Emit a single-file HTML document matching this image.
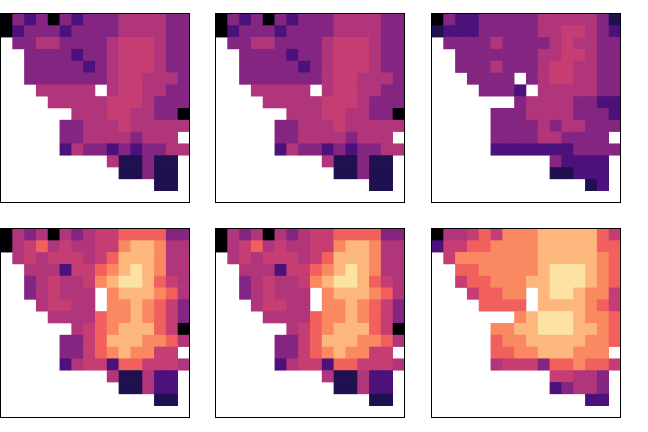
<!DOCTYPE html>
<html><head><meta charset="utf-8"><style>
html,body{margin:0;padding:0;background:#fff;}
svg{display:block;}
</style></head><body>
<svg id="chart" width="648" height="432" viewBox="0 0 648 432" xmlns="http://www.w3.org/2000/svg"></svg>
<script>
// Panel data: each row string is 16 cells, digits 0-9 = colour level, '.' = empty
const panelTopLeft = [
"0323032333444433","0233323333444433",".334433334555433","..33332334555433",
"..33333234555433","..33333334554443","...44444.4554433","....444445554333",
"......4445544330",".....33444544444",".....3344443444.",".....24332323344",
".........411311.","..........11311.",".............11.","................"];
const panelTopMid = panelTopLeft.slice();
const panelTopRight = [
"0322333334444431","1222333334455432",".333343333454433","..33333334455433",
"..33343334554433","...3333.34554433","....3332.4444433",".......344443322",
".....33344443332",".....33334344333",".....3333443333.",".....22222223333",
"..........32222.","..........11222.",".............12.","................"];
const panelBottomLeft = [
"0434043455666633","0456454455788744",".454555456888744","..44425567898744",
"..34544578998654","..345444.7888764","...45544.7787653","....444467787653",
"......4567888650",".....33568887764",".....3356787755.",".....24552665554",
".........411422.","..........11422.",".............11.","................"];
const panelBottomMid = panelBottomLeft.slice();
const panelBottomRight = [
"0445657778888865","2556677778888866",".577777778888876","..66777778999876",
"..56677788999876","...56677.8998775","....6666.8888765",".......789998776",
".....77889998876",".....67788888776",".....6677888777.",".....45553667665",
"..........55443.","..........23443.",".............22.","................"];
const panels = [panelTopLeft, panelTopMid, panelTopRight, panelBottomLeft, panelBottomMid, panelBottomRight];
const panelNames = ["panel-top-left","panel-top-middle","panel-top-right","panel-bottom-left","panel-bottom-middle","panel-bottom-right"];
const palette = ["#000004","#1f1150","#4c117a","#842681","#b0357b","#c63d73","#f1605d","#fa8861","#fdb67c","#fde3a3"];

const svg = document.getElementById('chart');
const NS = "http://www.w3.org/2000/svg";
const colX = [0.5, 215.5, 431.5];
const rowY = [13.5, 228.5];
const size = 189;
const n = 16;
const cell = size / n;
function xScale(p, c){ return colX[p % 3] + c * cell; }
function yScale(p, r){ return rowY[Math.floor(p / 3)] + r * cell; }

panels.forEach((rows, p) => {
  const g = document.createElementNS(NS, 'g');
  
  
  rows.forEach((row, r) => {
    for (let c = 0; c < n; c++) {
      const ch = row[c];
      if (ch === undefined || ch === '.') continue;
      const rect = document.createElementNS(NS, 'rect');
      
      
      rect.setAttribute('x', xScale(p, c).toFixed(2));
      rect.setAttribute('y', yScale(p, r).toFixed(2));
      rect.setAttribute('width', (cell + 0.3).toFixed(2));
      rect.setAttribute('height', (cell + 0.3).toFixed(2));
      rect.setAttribute('fill', palette[+ch]);
      g.appendChild(rect);
    }
  });
  const frame = document.createElementNS(NS, 'rect');
  
  
  frame.setAttribute('x', colX[p % 3]);
  frame.setAttribute('y', rowY[Math.floor(p / 3)]);
  frame.setAttribute('width', size);
  frame.setAttribute('height', size);
  frame.setAttribute('fill', 'none');
  frame.setAttribute('stroke', '#000');
  frame.setAttribute('stroke-width', '1');
  g.appendChild(frame);
  svg.appendChild(g);
});
</script>
</body></html>
